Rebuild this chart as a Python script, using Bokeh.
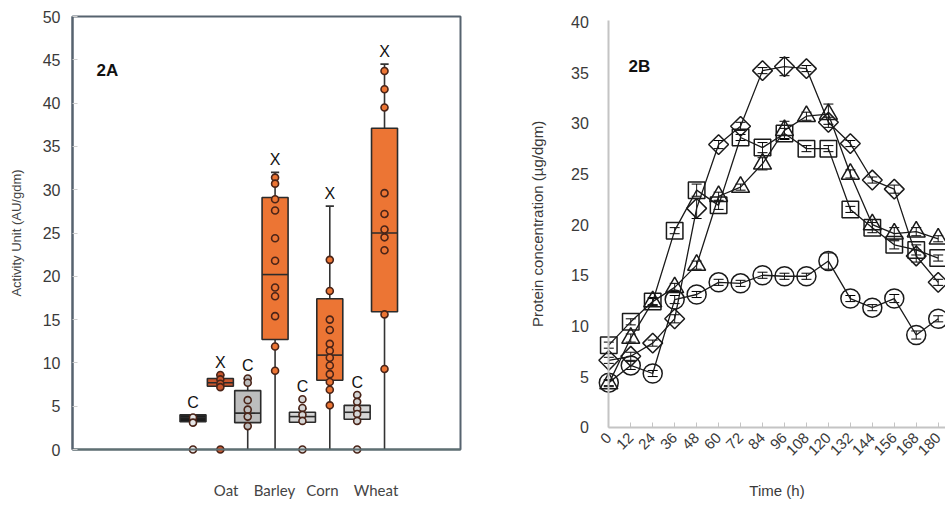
import math
from bokeh.plotting import figure
from bokeh.layouts import row
from bokeh.models import Range1d, FixedTicker, Label, ColumnDataSource, Whisker, BoxAnnotation
from bokeh.core.properties import value
from bokeh.embed import file_html
from bokeh.resources import INLINE

# ---------------- Panel 2A data ----------------
groups = ["Oat", "Barley", "Corn", "Wheat"]
box_letters = ["C", "X", "C", "X", "C", "X", "C", "X"]
box_low = [3.1, 7.0, 0.0, 0.0, 3.15, 0.0, 3.3, 0.0]
box_q1 = [3.2, 7.3, 3.1, 12.7, 3.15, 8.0, 3.5, 15.9]
box_med = [3.7, 7.7, 4.2, 20.2, 3.8, 10.9, 4.3, 25.0]
box_q3 = [4.0, 8.2, 6.8, 29.1, 4.3, 17.4, 5.1, 37.1]
box_high = [4.0, 8.6, 8.2, 32.0, 4.7, 28.1, 6.3, 44.5]
box_points = [
    [3.7, 3.1, 0.0],
    [8.6, 8.1, 7.6, 7.2, 0.0],
    [8.2, 7.7, 5.7, 4.6, 3.8, 2.7],
    [31.4, 30.7, 28.9, 27.6, 24.4, 21.8, 18.7, 17.7, 15.4, 11.9, 9.1],
    [5.8, 4.8, 4.0, 3.3, 0.0],
    [21.9, 18.3, 15.0, 13.8, 12.2, 11.4, 10.6, 9.7, 8.7, 7.8, 6.9, 5.1],
    [6.3, 5.5, 4.7, 4.1, 3.3, 0.0],
    [43.7, 41.6, 39.5, 29.6, 27.2, 25.4, 24.5, 23.0, 15.6, 9.3],
]
box_colors = ["#1c1c1c", "#C9552C", "#BDBDBD", "#EC7534", "#D6D6D6", "#EC7534", "#D6D6D6", "#EC7534"]
y_ticks_a = [0, 5, 10, 15, 20, 25, 30, 35, 40, 45, 50]

# ---------------- Panel 2B data ----------------
time_h = [0, 12, 24, 36, 48, 60, 72, 84, 96, 108, 120, 132, 144, 156, 168, 180]
diamond_y = [6.6, 7.0, 8.3, 10.7, 21.6, 27.9, 29.7, 35.2, 35.6, 35.4, 30.1, 28.0, 24.4, 23.5, 16.9, 14.3]
diamond_err = [0.3, 0.4, 0.3, 0.4, 1.0, 0.4, 0.4, 0.3, 0.9, 0.3, 0.5, 0.3, 0.3, 0.4, 0.6, 0.3]
square_y = [8.1, 10.4, 12.4, 19.4, 23.4, 21.9, 28.6, 27.6, 29.0, 27.5, 27.5, 21.5, 19.7, 18.0, 17.5, 16.7]
square_err = [0.3, 0.3, 0.3, 0.3, 0.6, 0.4, 0.3, 0.5, 0.5, 0.3, 0.3, 0.3, 0.5, 0.4, 0.5, 0.3]
triangle_y = [4.3, 8.8, 12.4, 13.8, 16.0, 22.8, 23.7, 26.0, 29.3, 30.7, 30.9, 25.0, 20.0, 19.1, 19.3, 18.6]
triangle_err = [0.3, 0.4, 0.4, 0.4, 0.4, 0.4, 0.3, 0.6, 0.9, 0.4, 1.0, 0.4, 0.5, 0.6, 0.4, 0.3]
circle_y = [4.4, 6.1, 5.3, 12.6, 13.1, 14.3, 14.2, 15.0, 14.9, 14.9, 16.4, 12.7, 11.8, 12.7, 9.1, 10.7]
circle_err = [0.3, 0.4, 0.3, 0.4, 0.3, 0.3, 0.3, 0.3, 0.3, 0.3, 0.8, 0.3, 0.3, 0.4, 0.4, 0.3]
y_ticks_b = [0, 5, 10, 15, 20, 25, 30, 35, 40]

FONT = "Liberation Sans"
TXT = "#3a3a3a"
FRAME = "#56636f"

# ---------------- layout constants (pixels on the page) ----------------
H = 504
W_A = 528
W_B = 945 - W_A
# panel A
A_SX = 27.36          # px per box slot
A_BOX1 = 192.5        # px of first box centre
A_SY = 8.66           # px per unit
A_Y0 = 449.0          # px of y=0
A_LEFT, A_RIGHT, A_TOP = 72.0, 460.0, 16.0
def ax(px):
    return 1 + (px - A_BOX1) / A_SX
def ay(py):
    return (A_Y0 - py) / A_SY
# panel B
B_SX = 1.83
B_X0 = 608.3
B_SY = 10.13
B_Y0 = 426.7
def bx(px):
    return (px - B_X0) / B_SX
def by(py):
    return (B_Y0 - py) / B_SY

# ================= Panel 2A =================
pa = figure(width=W_A, height=H, output_backend="svg", toolbar_location=None,
            x_range=Range1d(ax(0), ax(W_A)), y_range=Range1d(ay(H), ay(0)),
            min_border_left=0, min_border_right=0, min_border_top=0, min_border_bottom=0)
pa.grid.visible = False
pa.outline_line_color = None

pa.add_layout(BoxAnnotation(left=ax(A_LEFT), right=ax(A_RIGHT), bottom=0, top=ay(A_TOP),
                            fill_alpha=0, line_color=FRAME, line_alpha=1.0, line_width=2,
                            level="underlay"))

n = len(box_q1)
xs = [i + 1 for i in range(n)]
BW = 0.95

pa.segment(x0=xs, y0=box_low, x1=xs, y1=box_q1, line_color="#333333", line_width=1.6)
pa.segment(x0=xs, y0=box_q3, x1=xs, y1=box_high, line_color="#333333", line_width=1.6)
cap_idx = [i for i in range(n) if box_high[i] > box_q3[i]]
pa.segment(x0=[xs[i] - 0.15 for i in cap_idx], y0=[box_high[i] for i in cap_idx],
           x1=[xs[i] + 0.15 for i in cap_idx], y1=[box_high[i] for i in cap_idx],
           line_color="#333333", line_width=1.6)
pa.vbar(x=xs, bottom=box_q1, top=box_q3, width=BW, fill_color=box_colors,
        line_color="#2b2b2b", line_width=1.6)
pa.segment(x0=[x - BW / 2 for x in xs], y0=box_med, x1=[x + BW / 2 for x in xs], y1=box_med,
           line_color="#2b2b2b", line_width=1.6)
px, py, pf = [], [], []
for i, pts in enumerate(box_points):
    for v in pts:
        px.append(xs[i])
        py.append(v)
        pf.append("#e6e6e6" if box_colors[i] == "#1c1c1c" else box_colors[i])
pa.scatter(x=px, y=py, size=7, marker="circle", fill_color=pf, line_color="#4a2418", line_width=1.6)
tops = [max([box_high[i]] + box_points[i]) for i in range(n)]
pa.text(x=xs, y=tops, text=box_letters, text_align="center", text_baseline="bottom",
        y_offset=-4, text_font=value(FONT), text_font_size="16px", text_color="#111111")

pa.add_layout(Label(x=ax(96), y=ay(70), text="2A", text_font=FONT, text_font_size="17px",
                    text_font_style="bold", text_baseline="middle", text_color="#111111"))

ya = pa.yaxis[0]
ya.fixed_location = ax(A_LEFT)
ya.bounds = (0, 50)
ya.ticker = FixedTicker(ticks=y_ticks_a)
ya.minor_tick_line_color = None
ya.major_tick_in = 5
ya.major_tick_out = 0
ya.major_tick_line_color = "#cfcfcf"
ya.axis_line_color = FRAME
ya.axis_line_width = 2
ya.major_label_text_font = FONT
ya.major_label_text_font_size = "16px"
ya.major_label_text_color = TXT
ya.major_label_standoff = 12
ya.axis_label = "Activity Unit (AU/gdm)"
ya.axis_label_text_font = FONT
ya.axis_label_text_font_style = "normal"
ya.axis_label_text_font_size = "13px"
ya.axis_label_text_color = "#444444"
ya.axis_label_standoff = 16

LABEL_X = [2.21, 3.98, 5.73, 7.69]
xa = pa.xaxis[0]
xa.fixed_location = 0
xa.bounds = (ax(A_LEFT), ax(A_RIGHT))
xa.ticker = FixedTicker(ticks=LABEL_X)
xa.major_label_overrides = {LABEL_X[i]: groups[i] for i in range(len(groups))}
xa.major_tick_line_color = None
xa.minor_tick_line_color = None
xa.axis_line_color = "#5e7073"
xa.axis_line_width = 2
xa.major_label_text_font = "Lato"
xa.major_label_text_font_size = "15px"
xa.major_label_text_color = "#444444"
xa.major_label_standoff = 25

# ================= Panel 2B =================
pb = figure(width=W_B, height=H, output_backend="svg", toolbar_location=None,
            x_range=Range1d(bx(W_A), bx(945)), y_range=Range1d(by(H), by(0)),
            min_border_left=0, min_border_right=0, min_border_top=0, min_border_bottom=0)
pb.grid.visible = False
pb.outline_line_color = None

series = [
    (diamond_y, diamond_err, "square", 14, math.pi / 4),
    (square_y, square_err, "square", 16.5, 0),
    (triangle_y, triangle_err, "triangle", 18, 0),
    (circle_y, circle_err, "circle", 19, 0),
]
for ys, err, mk, sz, ang in series:
    src = ColumnDataSource(dict(x=time_h, y=ys,
                                lo=[a - b for a, b in zip(ys, err)],
                                hi=[a + b for a, b in zip(ys, err)]))
    pb.line("x", "y", source=src, line_color="#1a1a1a", line_width=1.3)
    pb.add_layout(Whisker(base="x", lower="lo", upper="hi", source=src,
                          line_color="#1a1a1a", line_width=1))
    pb.scatter("x", "y", source=src, marker=mk, size=sz, angle=ang, fill_alpha=0,
               line_color="#1a1a1a", line_width=1.5)

pb.add_layout(Label(x=bx(628), y=by(66), text="2B", text_font=FONT, text_font_size="17px",
                    text_font_style="bold", text_baseline="middle", text_color="#111111"))

yb = pb.yaxis[0]
yb.fixed_location = 0
yb.bounds = (0, by(20))
yb.ticker = FixedTicker(ticks=y_ticks_b)
yb.axis_line_color = "#c4c4c4"
yb.axis_line_width = 2
yb.major_tick_line_color = None
yb.minor_tick_line_color = None
yb.major_label_text_font = FONT
yb.major_label_text_font_size = "16px"
yb.major_label_text_color = TXT
yb.major_label_standoff = 14
yb.axis_label = "Protein concentration (µg/dgm)"
yb.axis_label_text_font = FONT
yb.axis_label_text_font_style = "normal"
yb.axis_label_text_font_size = "15px"
yb.axis_label_text_color = TXT
yb.axis_label_standoff = 22

xb = pb.xaxis[0]
xb.fixed_location = 0
xb.bounds = (0, bx(945))
xb.ticker = FixedTicker(ticks=time_h)
xb.axis_line_color = "#c4c4c4"
xb.axis_line_width = 2
xb.major_tick_line_color = "#c4c4c4"
xb.major_tick_in = 5
xb.major_tick_out = 0
xb.minor_tick_line_color = None
xb.major_label_orientation = math.pi / 4
xb.major_label_text_font = FONT
xb.major_label_text_font_size = "15px"
xb.major_label_text_color = TXT
xb.major_label_standoff = 8
xb.axis_label = "Time (h)"
xb.axis_label_text_font = FONT
xb.axis_label_text_font_style = "normal"
xb.axis_label_text_font_size = "15px"
xb.axis_label_text_color = TXT
xb.axis_label_standoff = 19

layout = row(pa, pb)
open("out.html", "w").write(file_html(layout, INLINE))
